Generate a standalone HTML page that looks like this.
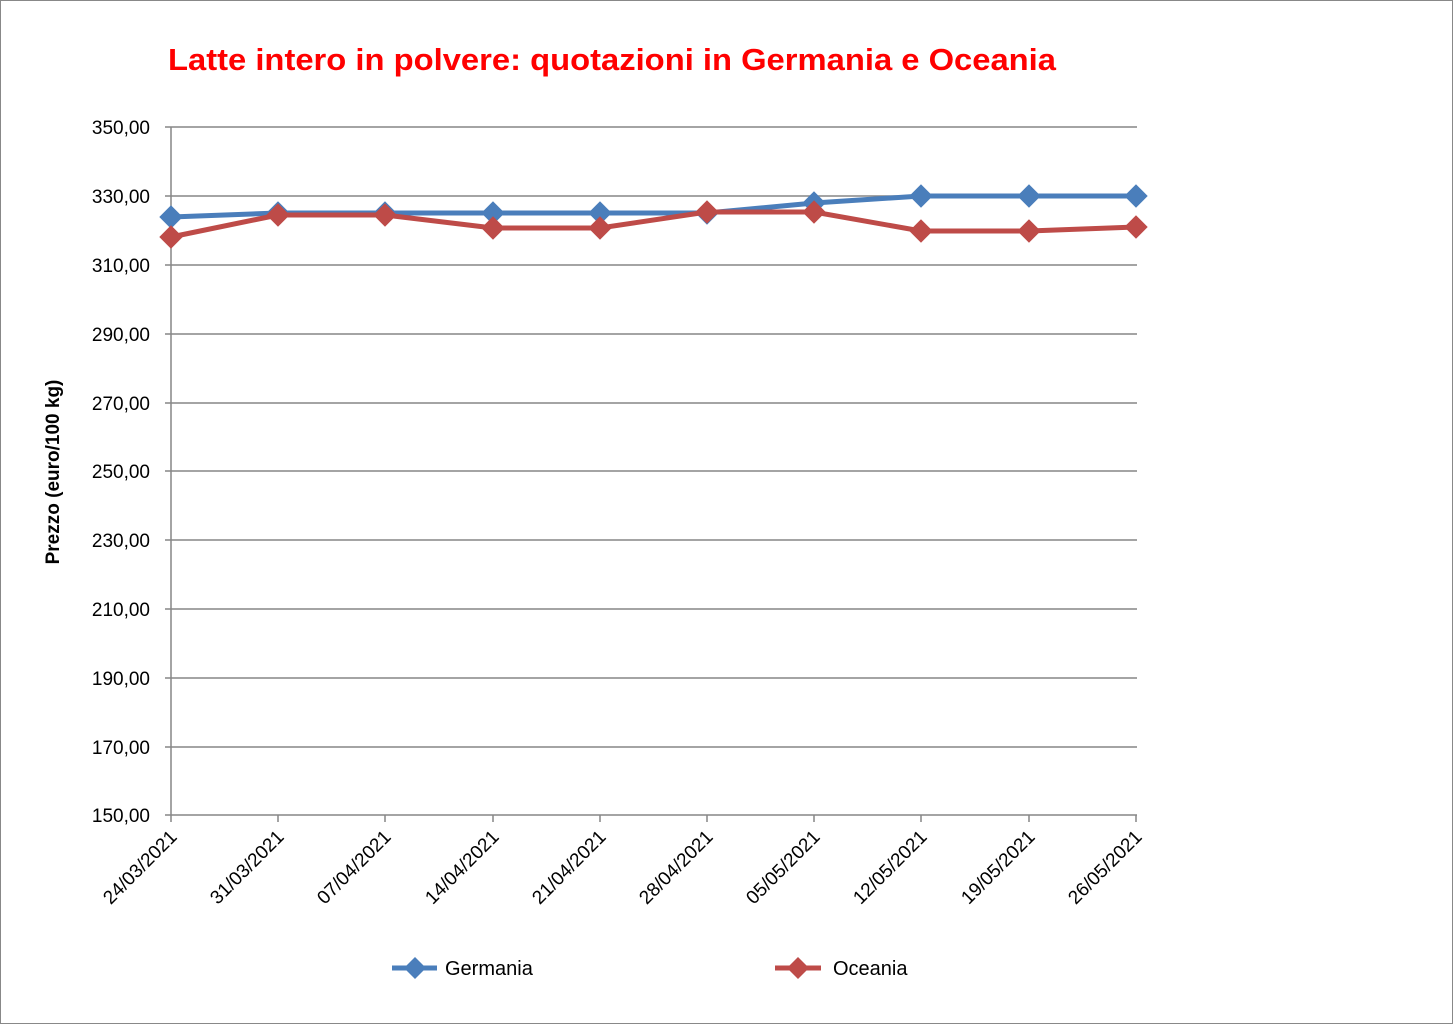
<!DOCTYPE html>
<html><head><meta charset="utf-8"><style>
body{margin:0;background:#fff}
svg{display:block;font-family:"Liberation Sans",sans-serif}
</style></head><body>
<svg width="1453" height="1024" viewBox="0 0 1453 1024" xmlns="http://www.w3.org/2000/svg">
<rect x="0.5" y="0.5" width="1452" height="1023" fill="#fff" stroke="#888"/>
<text x="168" y="70" textLength="888" lengthAdjust="spacingAndGlyphs" font-size="31" font-weight="bold" fill="#ff0000">Latte intero in polvere: quotazioni in Germania e Oceania</text>
<g stroke="#868686" stroke-width="1.5">
<line x1="165" y1="127" x2="1137" y2="127"/>
<line x1="165" y1="196" x2="1137" y2="196"/>
<line x1="165" y1="265" x2="1137" y2="265"/>
<line x1="165" y1="334" x2="1137" y2="334"/>
<line x1="165" y1="403" x2="1137" y2="403"/>
<line x1="165" y1="471" x2="1137" y2="471"/>
<line x1="165" y1="540" x2="1137" y2="540"/>
<line x1="165" y1="609" x2="1137" y2="609"/>
<line x1="165" y1="678" x2="1137" y2="678"/>
<line x1="165" y1="747" x2="1137" y2="747"/>
<line x1="165" y1="815" x2="1137" y2="815"/>
<line x1="171" y1="127" x2="171" y2="822"/>
<line x1="278" y1="815" x2="278" y2="822"/><line x1="385" y1="815" x2="385" y2="822"/>
<line x1="493" y1="815" x2="493" y2="822"/><line x1="600" y1="815" x2="600" y2="822"/>
<line x1="707" y1="815" x2="707" y2="822"/><line x1="814" y1="815" x2="814" y2="822"/>
<line x1="921" y1="815" x2="921" y2="822"/><line x1="1029" y1="815" x2="1029" y2="822"/>
<line x1="1136" y1="815" x2="1136" y2="822"/>
</g>
<g font-size="19" text-anchor="end" fill="#000">
<text x="150" y="134">350,00</text><text x="150" y="203">330,00</text><text x="150" y="272">310,00</text>
<text x="150" y="341">290,00</text><text x="150" y="410">270,00</text><text x="150" y="478">250,00</text>
<text x="150" y="547">230,00</text><text x="150" y="616">210,00</text><text x="150" y="685">190,00</text>
<text x="150" y="754">170,00</text><text x="150" y="822">150,00</text>
</g>
<text transform="translate(59,472) rotate(-90)" text-anchor="middle" font-size="19" font-weight="bold">Prezzo (euro/100 kg)</text>
<g font-size="19" text-anchor="end">
<text transform="translate(178,838) rotate(-45)">24/03/2021</text>
<text transform="translate(285,838) rotate(-45)">31/03/2021</text>
<text transform="translate(392,838) rotate(-45)">07/04/2021</text>
<text transform="translate(500,838) rotate(-45)">14/04/2021</text>
<text transform="translate(607,838) rotate(-45)">21/04/2021</text>
<text transform="translate(714,838) rotate(-45)">28/04/2021</text>
<text transform="translate(821,838) rotate(-45)">05/05/2021</text>
<text transform="translate(928,838) rotate(-45)">12/05/2021</text>
<text transform="translate(1036,838) rotate(-45)">19/05/2021</text>
<text transform="translate(1143,838) rotate(-45)">26/05/2021</text>
</g>
<defs>
<path id="dm" d="M0,-11 L11,0 L0,11 L-11,0Z"/>
</defs>
<g fill="#4a7ebb" stroke="#4a7ebb">
<polyline fill="none" stroke-width="5" points="171,217 278,213 385,213 493,213 600,213 707,213 814,203 921,196 1029,196 1136,196"/>
<use href="#dm" x="171" y="217"/><use href="#dm" x="278" y="213"/><use href="#dm" x="385" y="213"/>
<use href="#dm" x="493" y="213"/><use href="#dm" x="600" y="213"/><use href="#dm" x="707" y="213"/>
<use href="#dm" x="814" y="203"/><use href="#dm" x="921" y="196"/><use href="#dm" x="1029" y="196"/><use href="#dm" x="1136" y="196"/>
</g>
<g fill="#be4b48" stroke="#be4b48">
<polyline fill="none" stroke-width="5" points="171,237 278,215 385,215 493,228 600,228 707,212 814,212 921,231 1029,231 1136,227"/>
<use href="#dm" x="171" y="237"/><use href="#dm" x="278" y="215"/><use href="#dm" x="385" y="215"/>
<use href="#dm" x="493" y="228"/><use href="#dm" x="600" y="228"/><use href="#dm" x="707" y="212"/>
<use href="#dm" x="814" y="212"/><use href="#dm" x="921" y="231"/><use href="#dm" x="1029" y="231"/><use href="#dm" x="1136" y="227"/>
</g>
<line x1="392" y1="968" x2="437" y2="968" stroke="#4a7ebb" stroke-width="5"/>
<use href="#dm" x="415" y="968" fill="#4a7ebb"/>
<text x="445" y="975" font-size="20">Germania</text>
<line x1="775" y1="968" x2="821" y2="968" stroke="#be4b48" stroke-width="5"/>
<use href="#dm" x="798" y="968" fill="#be4b48"/>
<text x="833" y="975" font-size="20">Oceania</text>
</svg>
</body></html>
